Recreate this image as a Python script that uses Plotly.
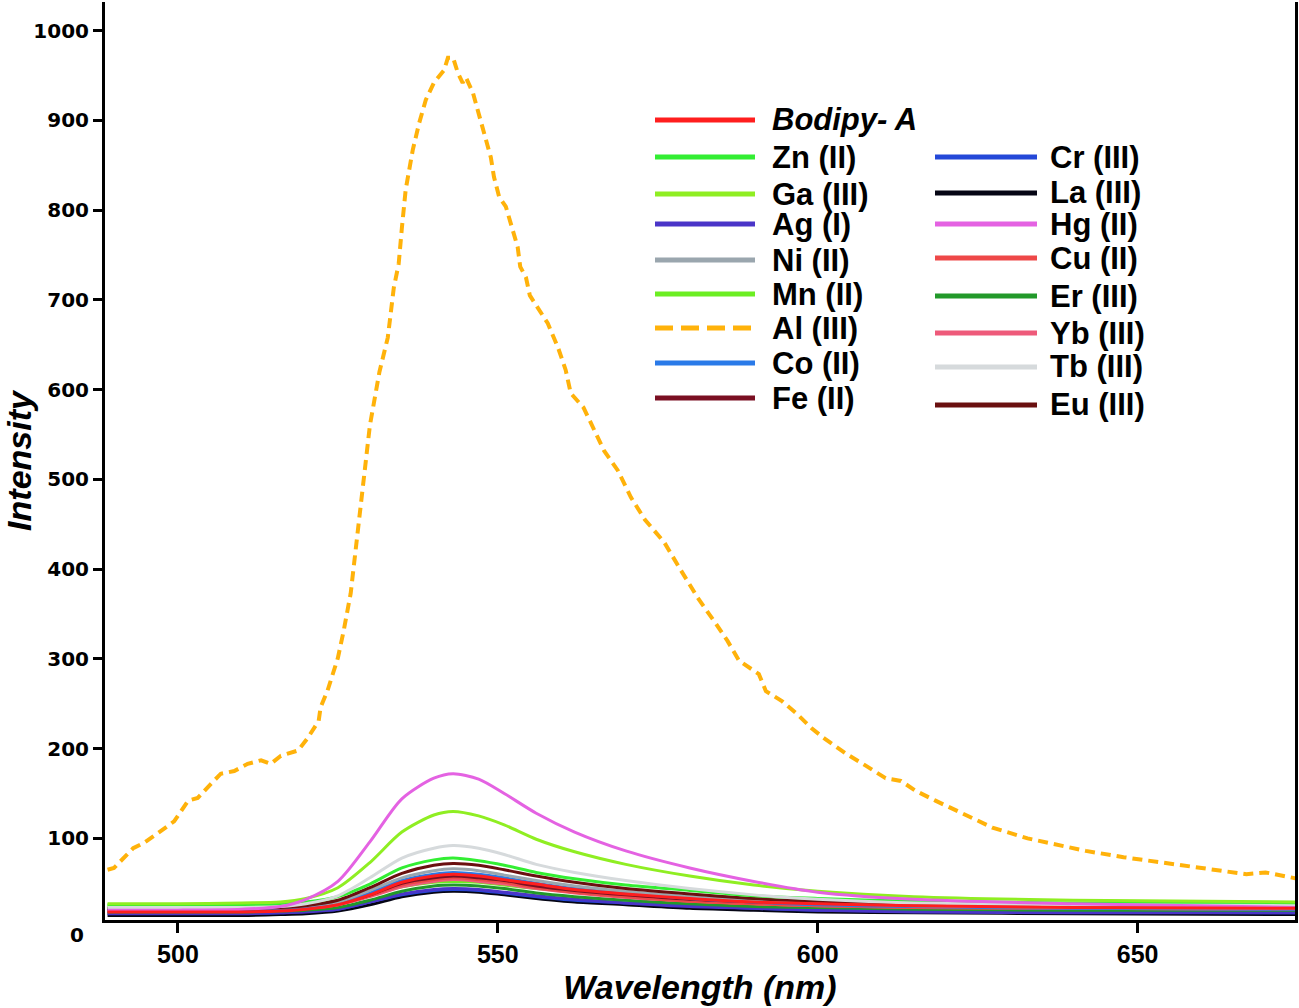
import plotly.graph_objects as go

# ---------------- data ----------------
wl = [489, 500, 510, 516, 520, 525, 530, 535, 540, 543, 547, 551, 556, 562, 570, 580, 590, 600, 615, 640, 675]

bodipy = [18, 18, 18, 19, 21, 26, 37, 51, 58, 60, 58, 54, 49, 43, 38, 33, 29, 27, 25, 23, 22]
zn = [26, 26, 26, 27, 29, 35, 49, 67, 76, 78, 75, 70, 62, 55, 48, 42, 36, 33, 30, 28, 27]
ga = [27, 27, 28, 29, 33, 45, 73, 107, 126, 130, 125, 115, 99, 85, 71, 58, 48, 41, 35, 31, 29]
ag = [16, 16, 16, 17, 18, 21, 29, 38, 43, 44, 43, 40, 36, 32, 28, 24, 22, 20, 18, 17, 17]
ni = [22, 22, 22, 23, 25, 29, 42, 56, 64, 66, 64, 59, 53, 47, 41, 35, 31, 28, 25, 23, 22]
mn = [25, 25, 25, 25, 27, 30, 37, 46, 51, 52, 51, 48, 44, 40, 36, 32, 29, 28, 26, 25, 24]
co = [21, 21, 21, 22, 23, 28, 39, 53, 60, 62, 60, 56, 50, 44, 39, 33, 29, 26, 24, 22, 21]
fe = [20, 20, 20, 21, 23, 27, 37, 50, 56, 58, 56, 53, 47, 42, 37, 32, 29, 27, 25, 24, 23]
cr = [17, 17, 17, 17, 19, 21, 29, 37, 42, 43, 42, 39, 35, 31, 28, 25, 22, 20, 19, 18, 17]
la = [14, 14, 14, 15, 16, 19, 26, 35, 40, 41, 40, 37, 33, 29, 26, 22, 20, 18, 17, 16, 15]
hg = [20, 20, 21, 24, 32, 52, 96, 144, 167, 172, 166, 150, 128, 107, 86, 67, 52, 40, 32, 27, 23]
cu = [19, 19, 19, 20, 22, 26, 36, 48, 54, 56, 54, 51, 45, 40, 35, 30, 27, 25, 23, 22, 21]
er = [18, 18, 18, 19, 20, 23, 31, 41, 47, 48, 47, 44, 39, 35, 31, 27, 24, 23, 21, 20, 20]
yb = [20, 20, 20, 21, 22, 26, 35, 46, 52, 54, 52, 49, 44, 39, 34, 30, 27, 25, 23, 22, 21]
tb = [23, 23, 23, 24, 27, 36, 56, 78, 89, 92, 89, 82, 71, 62, 53, 44, 37, 32, 28, 26, 25]
eu = [22, 22, 22, 23, 25, 31, 45, 61, 70, 72, 70, 65, 58, 51, 44, 38, 33, 30, 28, 26, 25]

al_wl = [489, 490, 493, 494.7, 497.3, 499.4, 501.6, 503.1, 505.2, 506.7,
         508.8, 510.9, 513, 514.5, 516.1, 518.8, 520.3, 522, 522.3, 523.4,
         525, 525.9, 527, 528.5, 530, 531.5, 532.8, 533.75, 534.5, 535,
         535.6, 536.7, 537.7, 538.75, 540, 541.6, 542.2, 543, 543.75, 544.5,
         545, 546.1, 547, 548, 548.9, 549.4, 550.2, 551.25, 552.3, 553.1,
         553.5, 554.4, 555, 556.25, 557.8, 559.4, 560.6, 561.4, 563.4, 565.6,
         566.6, 568.75, 570.8, 573, 576, 578.5, 581.25, 584.1, 585.9, 587.7,
         590.8, 591.9, 594.4, 596.7, 599, 600.9, 604.5, 607.5, 610.6, 613,
         615.3, 618.4, 622.5, 627.3, 632.8, 637, 641.9, 647.8, 653.9, 659.8,
         667, 670, 675]
al = [65, 67, 89, 95, 108, 119, 142, 145, 161, 172,
      175, 183, 187, 183, 192, 198, 212, 231, 246, 265,
      301, 331, 373, 470, 560, 620, 658, 714, 740, 780,
      823, 867, 897, 923, 942, 956, 970, 970, 953, 942,
      948, 931, 908, 882, 859, 837, 815, 804, 778, 759,
      737, 725, 705, 692, 674, 647, 622, 596, 580, 547,
      532, 510, 480, 455, 430, 400, 368, 339, 320, 298,
      283, 264, 253, 239, 223, 212, 194, 181, 167, 164,
      153, 142, 128, 112, 100, 94, 86, 79, 73, 68,
      60, 62, 55]

names = ["Bodipy- A", "Zn (II)", "Ga (III)", "Ag (I)", "Ni (II)", "Mn (II)", "Al (III)", "Co (II)", "Fe (II)",
         "Cr (III)", "La (III)", "Hg (II)", "Cu (II)", "Er (III)", "Yb (III)", "Tb (III)", "Eu (III)"]
series_y = [bodipy, zn, ga, ag, ni, mn, al, co, fe, cr, la, hg, cu, er, yb, tb, eu]
colors = ["#ff1e1e", "#33ee33", "#8fee22", "#4a35c8", "#9aa6ae", "#6cee22", "#ffb20a", "#2a7ae8", "#7a0f22",
          "#2448d8", "#050514", "#e462e2", "#ee4848", "#22992a", "#ee5a7a", "#d6dadc", "#6a1010"]

y_ticks = [100, 200, 300, 400, 500, 600, 700, 800, 900, 1000]
x_ticks = [500, 550, 600, 650]

# ---------------- layout constants ----------------
W, H = 1299, 1008
ML, MR, MT, MB = 105, 4, 2, 88
XR = [488.6, 674.6]
YR = [9, 1032]
draw_order = [10, 9, 3, 13, 5, 14, 12, 8, 7, 4, 16, 1, 15, 2, 11, 0, 6]

fig = go.Figure()
for i in draw_order:
    dashed = names[i] == "Al (III)"
    xs = al_wl if dashed else wl
    fig.add_trace(go.Scatter(
        x=xs, y=series_y[i], mode="lines", name=names[i], showlegend=False,
        line=dict(color=colors[i], width=4 if dashed else 3,
                  dash="10px,6px" if dashed else "solid",
                  shape="linear" if dashed else "spline", smoothing=0.8),
    ))

# ---------------- hand-placed legend (two columns) ----------------
pw, ph = W - ML - MR, H - MT - MB
def px2p(x):
    return (x - ML) / pw
def py2p(y):
    return (H - MB - y) / ph

col1_rows = [120, 157, 194, 224, 260, 294, 328, 363, 398]
col2_rows = [157, 193, 224, 258, 296, 333, 367, 405]
for i, name in enumerate(names):
    if i < 9:
        ry = col1_rows[i]; x0, x1, xt = 655, 755, 770
    else:
        ry = col2_rows[i - 9]; x0, x1, xt = 935, 1037, 1048
    dashed = name == "Al (III)"
    fig.add_shape(type="line", xref="paper", yref="paper",
                  x0=px2p(x0), x1=px2p(x1), y0=py2p(ry), y1=py2p(ry),
                  line=dict(color=colors[i], width=5, dash="18px,8px" if dashed else "solid"))
    label = "<b><i>" + name + "</i></b>" if i == 0 else "<b>" + name + "</b>"
    fig.add_annotation(xref="paper", yref="paper", x=px2p(xt), y=py2p(ry),
                       xanchor="left", yanchor="middle", showarrow=False, text=label,
                       font=dict(family="Liberation Sans, Arial", size=31, color="black"))

# "0" label that sits below the x axis line
fig.add_annotation(xref="paper", yref="paper", x=0, xshift=-19,
                   y=(0 - YR[0]) / (YR[1] - YR[0]) - 0.008, xanchor="right", yanchor="middle",
                   showarrow=False, text="<b>0</b>",
                   font=dict(family="DejaVu Sans", size=20, color="black"))

fig.update_layout(
    width=W, height=H,
    margin=dict(l=ML, r=MR, t=MT, b=MB, autoexpand=False),
    paper_bgcolor="white", plot_bgcolor="white",
    showlegend=False,
    xaxis=dict(
        range=XR, tickvals=x_ticks, ticktext=[str(v) for v in x_ticks],
        automargin=False,
        showgrid=False, zeroline=False, showline=True, linecolor="black", linewidth=3,
        ticks="outside", ticklen=10, tickwidth=3, tickcolor="black",
        tickfont=dict(family="Liberation Sans, Arial", size=25, color="black", weight="bold"),
        title=dict(text="<b><i>Wavelength (nm)</i></b>", standoff=8,
                   font=dict(family="Liberation Sans, Arial", size=34, color="black")),
    ),
    yaxis=dict(
        range=YR, tickvals=y_ticks, ticktext=[str(v) for v in y_ticks],
        automargin=False,
        showgrid=False, zeroline=False, showline=True, linecolor="black", linewidth=3,
        mirror=True,
        ticks="outside", ticklen=9, tickwidth=3, tickcolor="black",
        tickfont=dict(family="DejaVu Sans", size=20, color="black", weight="bold"),
        title=dict(text="<b><i>Intensity</i></b>", standoff=4,
                   font=dict(family="Liberation Sans, Arial", size=34, color="black")),
    ),
)

fig.write_html(
    "out.html",
    config={"displayModeBar": False},
    post_script="document.body.style.margin='0';document.body.style.padding='0';document.body.style.overflow='hidden';",
)
